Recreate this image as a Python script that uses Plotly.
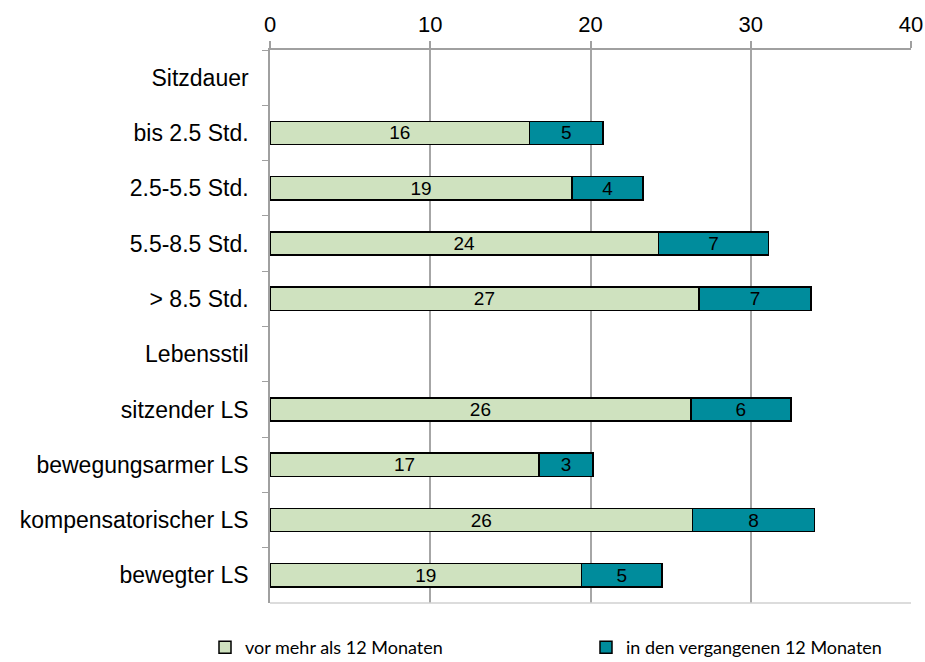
import plotly.graph_objects as go

categories = ["Sitzdauer", "bis 2.5 Std.", "2.5-5.5 Std.", "5.5-8.5 Std.", "> 8.5 Std.",
              "Lebensstil", "sitzender LS", "bewegungsarmer LS", "kompensatorischer LS", "bewegter LS"]
vor_mehr = [None, 16.2, 18.85, 24.25, 26.76, None, 26.26, 16.8, 26.38, 19.44]
vergangen = [None, 4.57, 4.44, 6.85, 7.0, None, 6.24, 3.36, 7.6, 5.03]
series_names = ["vor mehr als 12 Monaten", "in den vergangenen 12 Monaten"]
colors = ["#cfe2bf", "#008c9c"]
x_ticks = [0, 10, 20, 30, 40]

def labels(vals):
    return ["" if v is None else f"{round(v):d}" for v in vals]

fig = go.Figure()
for i, (name, vals, col) in enumerate(zip(series_names, [vor_mehr, vergangen], colors)):
    fig.add_trace(go.Bar(
        y=categories, x=vals, name=name, orientation="h",
        marker=dict(color=col, line=dict(color="black", width=1.5)),
        text=labels(vals), textposition="inside", insidetextanchor="middle",
        textangle=0, constraintext="none",
        textfont=dict(family="Liberation Sans, Arial", size=19, color="black"),
        legend="legend" if i == 0 else "legend2",
    ))

legend_common = dict(orientation="h", xref="container", yref="container",
                     xanchor="left", yanchor="middle", y=0.022,
                     font=dict(family="Lato", size=18, color="black"),
                     itemwidth=30, bgcolor="rgba(0,0,0,0)")

fig.update_layout(
    barmode="stack", bargap=0.58,
    width=925, height=662,
    margin=dict(l=270, r=14, t=50, b=59),
    plot_bgcolor="white", paper_bgcolor="white",
    font=dict(family="Liberation Sans, Arial", size=23, color="black"),
    showlegend=True,
    legend=dict(x=205 / 925, **legend_common),
    legend2=dict(x=586 / 925, **legend_common),
)
fig.update_xaxes(
    side="top", range=[0, 40], tickvals=x_ticks, ticktext=[str(t) for t in x_ticks],
    showgrid=True, gridcolor="#a6a6a6", gridwidth=1.5,
    showline=True, linecolor="#a0a0a0", linewidth=2, mirror=False,
    ticks="outside", ticklen=7, tickcolor="#a0a0a0", tickwidth=1.5,
    tickfont=dict(size=22), zeroline=False, automargin=False,
)
fig.update_yaxes(
    autorange="reversed", type="category",
    showline=True, linecolor="#a0a0a0", linewidth=1.5,
    ticks="outside", tickson="boundaries", ticklen=6, tickcolor="#a0a0a0",
    showgrid=False, tickfont=dict(size=23), ticklabelstandoff=15, automargin=False,
)
# light bottom border of plot area
fig.add_shape(type="line", xref="paper", yref="paper", x0=0, x1=1, y0=0, y1=0,
              line=dict(color="#d0d0d0", width=1.5))

fig.write_html("out.html", config={"displayModeBar": False},
               post_script="document.body.style.margin='0';")
